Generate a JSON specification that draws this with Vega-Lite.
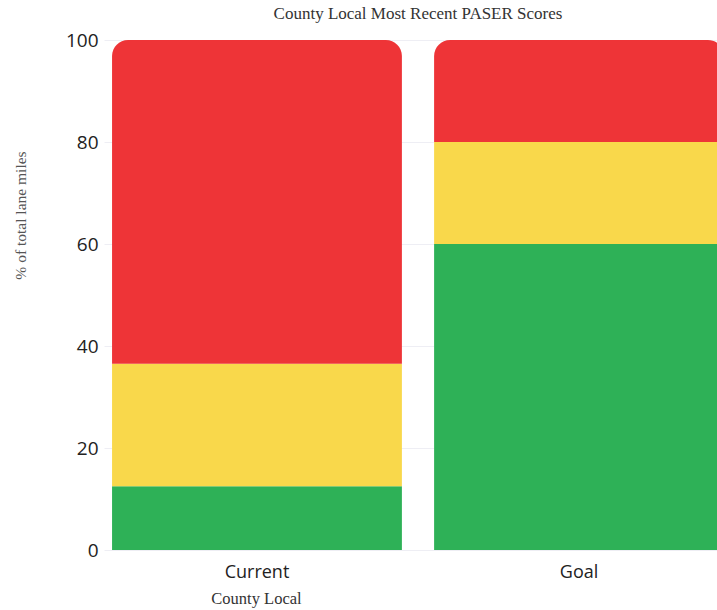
{
  "$schema": "https://vega.github.io/schema/vega-lite/v6.json",
  "autosize": "none",
  "width": 628,
  "height": 510,
  "padding": {"left": 104, "top": 40, "right": 0, "bottom": 60},
  "background": "#ffffff",
  "title": {
    "text": "County Local Most Recent PASER Scores",
    "font": "Liberation Serif",
    "fontSize": 17,
    "fontWeight": "normal",
    "color": "#333333",
    "anchor": "middle",
    "baseline": "alphabetic",
    "offset": -5
  },
  "data": {
    "values": [
      {"group": "Current", "condition": "Good", "order": 1, "pct": 12.5},
      {"group": "Current", "condition": "Fair", "order": 2, "pct": 24},
      {"group": "Current", "condition": "Poor", "order": 3, "pct": 63.5},
      {"group": "Goal", "condition": "Good", "order": 1, "pct": 60},
      {"group": "Goal", "condition": "Fair", "order": 2, "pct": 20},
      {"group": "Goal", "condition": "Poor", "order": 3, "pct": 20}
    ]
  },
  "transform": [
    {"stack": "pct", "groupby": ["group"], "sort": [{"field": "order", "order": "ascending"}], "as": ["y0", "y1"]}
  ],
  "encoding": {
    "x": {
      "field": "group",
      "type": "nominal",
      "scale": {"paddingInner": 0.1, "paddingOuter": 0.025},
      "axis": {
        "title": "County Local",
        "titleFont": "Liberation Serif",
        "titleFontSize": 16.5,
        "titleFontWeight": "normal",
        "titleColor": "#333333",
        "titleX": 152,
        "titleY": 53,
        "titleAlign": "center",
        "titleBaseline": "alphabetic",
        "labelFont": "Open Sans",
        "labelFontSize": 18,
        "labelColor": "#222222",
        "labelAngle": 0,
        "labelPadding": 13,
        "ticks": false,
        "domain": false
      }
    },
    "y": {
      "field": "y0",
      "type": "quantitative",
      "scale": {"domain": [0, 100]},
      "axis": {
        "title": "% of total lane miles",
        "titleFont": "Liberation Serif",
        "titleFontSize": 15.5,
        "titleFontWeight": "normal",
        "titleColor": "#555555",
        "titleX": -84,
        "titleY": 175,
        "titleAngle": -90,
        "titleAlign": "center",
        "titleBaseline": "middle",
        "labelFont": "Open Sans",
        "labelFontSize": 19,
        "labelColor": "#222222",
        "labelPadding": 6,
        "labelOverlap": false,
        "labelBound": false,
        "values": [0, 20, 40, 60, 80, 100],
        "ticks": false,
        "domain": false,
        "grid": true,
        "gridColor": "#eeeef4"
      }
    },
    "y2": {"field": "y1"},
    "color": {
      "field": "condition",
      "type": "nominal",
      "scale": {"domain": ["Good", "Fair", "Poor"], "range": ["#2EB157", "#F9D84B", "#EE3437"]},
      "legend": null
    }
  },
  "layer": [
    {
      "transform": [{"filter": "datum.condition != 'Poor'"}],
      "mark": {"type": "bar"}
    },
    {
      "transform": [{"filter": "datum.condition == 'Poor'"}],
      "mark": {"type": "bar", "cornerRadiusTopLeft": 16, "cornerRadiusTopRight": 16}
    }
  ],
  "config": {"view": {"stroke": null}}
}
